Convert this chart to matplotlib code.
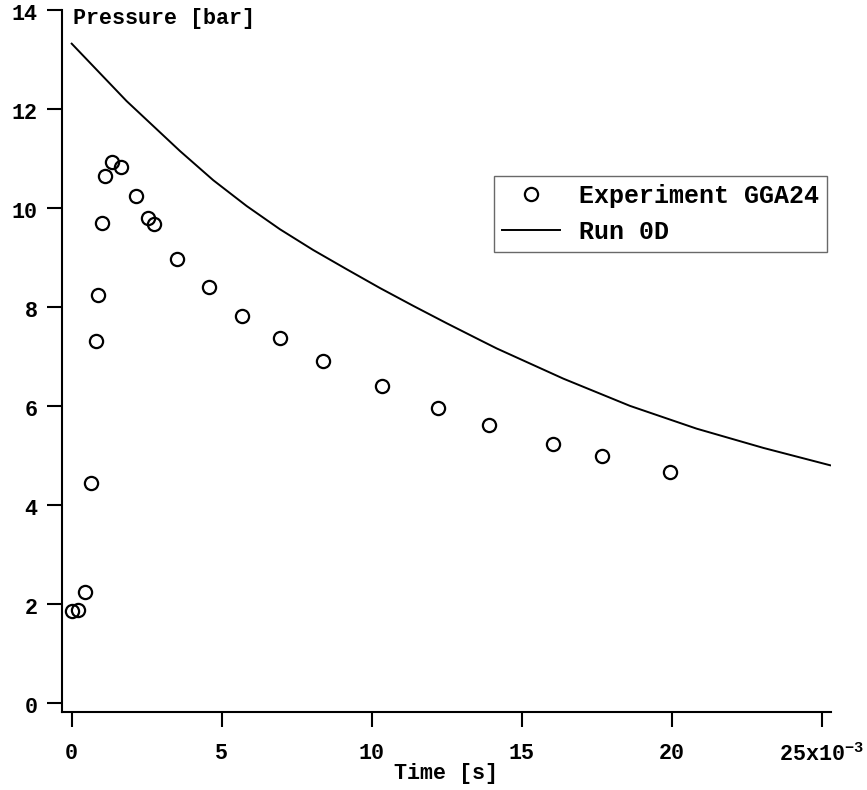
import matplotlib
matplotlib.use("Agg")
import matplotlib.pyplot as plt
from matplotlib.ticker import FixedLocator
from matplotlib.transforms import ScaledTranslation

# ---- data ----
exp_time = [0.00000, 0.00021, 0.00044, 0.00065, 0.00080, 0.00087, 0.00100, 0.00112,
            0.00134, 0.00163, 0.00215, 0.00256, 0.00274, 0.00352, 0.00459, 0.00569,
            0.00695, 0.00838, 0.01035, 0.01220, 0.01390, 0.01605, 0.01768, 0.01994]
exp_pressure = [1.86, 1.88, 2.25, 4.45, 7.32, 8.25, 9.70, 10.66,
                10.94, 10.84, 10.26, 9.80, 9.68, 8.97, 8.41, 7.83,
                7.38, 6.92, 6.41, 5.96, 5.62, 5.23, 4.99, 4.67]

run_time = [0.0000, 0.00183, 0.00361, 0.00472, 0.00583, 0.00694, 0.00805, 0.00917,
            0.01028, 0.01139, 0.01250, 0.01361, 0.01417, 0.01639, 0.01861, 0.02083,
            0.02306, 0.02528]
run_pressure = [13.33, 12.17, 11.16, 10.57, 10.05, 9.58, 9.16, 8.77,
                8.39, 8.03, 7.68, 7.34, 7.17, 6.56, 6.01, 5.55,
                5.16, 4.81]

x_ticks = [0.0, 0.005, 0.010, 0.015, 0.020, 0.025]
x_tick_labels = ["0", "5", "10", "15", "20", "25x10$^{-3}$"]
y_ticks = [0, 2, 4, 6, 8, 10, 12, 14]
y_tick_labels = ["0", "2", "4", "6", "8", "10", "12", "14"]

series_labels = ["Experiment GGA24", "Run 0D"]

# ---- style ----
plt.rcParams['font.family'] = ['Liberation Mono', 'DejaVu Sans']
plt.rcParams['font.weight'] = 'bold'
plt.rcParams['mathtext.default'] = 'regular'

W, H = 867, 790
fig = plt.figure(figsize=(W / 100, H / 100), dpi=100)
left, right, bottom, top = 62 / W, 830.7 / W, 1 - 712 / H, 1 - 10.5 / H
ax = fig.add_axes([left, bottom, right - left, top - bottom])

ax.plot(exp_time, exp_pressure, linestyle='none', marker='o', markersize=9.5,
        markerfacecolor='none', markeredgecolor='black', markeredgewidth=1.6,
        label=series_labels[0])
ax.plot(run_time, run_pressure, color='black', linewidth=1.4, label=series_labels[1])

ax.set_xlim(-0.000323, 0.02530)
ax.set_ylim(-0.176, 14)

ax.spines['top'].set_visible(False)
ax.spines['right'].set_visible(False)
for s in ('left', 'bottom'):
    ax.spines[s].set_linewidth(1.5)

ax.xaxis.set_major_locator(FixedLocator(x_ticks))
ax.set_xticklabels(x_tick_labels)
ax.yaxis.set_major_locator(FixedLocator(y_ticks))
ax.set_yticklabels(y_tick_labels)
ax.tick_params(direction='out', length=10.5, width=1.5, labelsize=15.7, color='black')
ax.tick_params(axis='x', pad=12)
ax.tick_params(axis='y', pad=7)
shift = ScaledTranslation(0, -2 / 100, fig.dpi_scale_trans)
for lab in ax.get_yticklabels():
    lab.set_transform(lab.get_transform() + shift)

ax.set_xlabel("Time [s]", fontsize=15.7, fontweight='bold')
ax.xaxis.set_label_coords(0.5, (712 - 773) / 701.5)
ax.xaxis.label.set_va('center')

fig.text(72.7 / W, 1 - 18.5 / H, "Pressure [bar]", fontsize=15.7, fontweight='bold',
         ha='left', va='center')

leg = ax.legend(loc='upper right', bbox_to_anchor=(826.7 / W, 1 - 176 / H),
                bbox_transform=fig.transFigure, fontsize=18, frameon=True,
                fancybox=False, edgecolor='#444444', borderpad=0.3,
                handlelength=2.35, handletextpad=0.75, labelspacing=0.5,
                borderaxespad=0.0)
leg.get_frame().set_linewidth(1.0)

fig.savefig("out.png", dpi=100, facecolor='white')
